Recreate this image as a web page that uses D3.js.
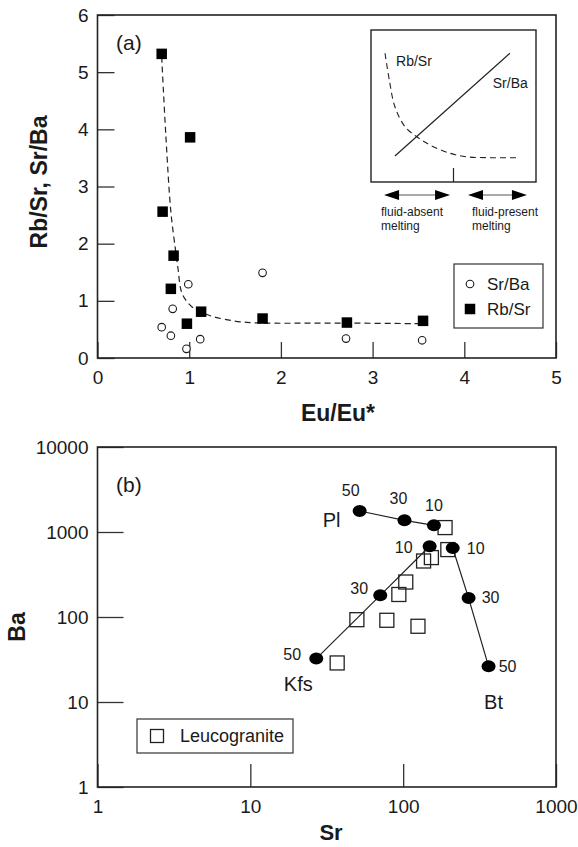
<!DOCTYPE html>
<html lang="en">
<head>
<meta charset="utf-8">
<title>Eu/Eu* and Sr-Ba</title>
<script src="https://cdn.jsdelivr.net/npm/d3@7"></script>
<style>
body{margin:0;background:#fff;}
svg{display:block;font-family:"Liberation Sans",Arial,sans-serif;}
</style>
</head>
<body>
<div id="chart"></div>
<script>
// ---- panel (a) data ----
var rbsrEu  = [0.70, 1.01, 0.71, 0.83, 0.80, 0.975, 1.13, 1.80, 2.72, 3.55]
var rbsrVal = [5.32, 3.86, 2.56, 1.79, 1.21, 0.60, 0.81, 0.69, 0.62, 0.65]
var srbaEu  = [0.99, 0.82, 0.70, 0.80, 0.97, 1.12, 1.80, 2.71, 3.54]
var srbaVal = [1.29, 0.86, 0.54, 0.39, 0.16, 0.33, 1.49, 0.34, 0.31]
// dashed trend
var fitEu  = [0.70, 0.745, 0.80, 0.85, 0.88, 0.91, 0.96, 1.05, 1.23, 1.48, 1.67, 1.85, 2.72, 3.55]
var fitVal = [5.27, 3.90, 2.56, 1.90, 1.54, 1.19, 1.02, 0.87, 0.74, 0.65, 0.62, 0.61, 0.61, 0.60]
var xTicksA = [0, 1, 2, 3, 4, 5]
var yTicksA = [0, 1, 2, 3, 4, 5, 6]

// inset (schematic, 0..1 units)
var insetDashX = [0.085, 0.111, 0.145, 0.206, 0.277, 0.358, 0.479, 0.58, 0.721, 0.903]
var insetDashY = [0.847, 0.671, 0.495, 0.364, 0.298, 0.243, 0.189, 0.166, 0.160, 0.160]
var insetLineX = [0.145, 0.842]
var insetLineY = [0.171, 0.847]
var insetDivide = 0.5

// ---- panel (b) data ----
var leucoSr = [188, 196, 153, 136, 104, 93.7, 49.8, 78.2, 125, 37]
var leucoBa = [1127, 621, 500, 456, 258, 184, 93, 91.5, 77.8, 28.8]
var meltPct = [50, 30, 10]
var plSr  = [51.9, 102, 159]
var plBa  = [1766, 1373, 1199]
var kfsSr = [27, 70.8, 149]
var kfsBa = [32.4, 180, 679]
var btSr  = [362, 268, 211]
var btBa  = [26.3, 167, 649]
var xTicksB = [1, 10, 100, 1000]
var yTicksB = [1, 10, 100, 1000, 10000]

var W = 578, H = 847
var ink = "#1a1a1a"

var svg = d3.select("#chart").append("svg")
	.attr("width", W)
	.attr("height", H)

function styleAxis(g, fs){
	g.select(".domain").remove()
	g.selectAll("line").attr("stroke", "#333").attr("stroke-width", 1.3)
	g.selectAll("text").attr("font-size", fs).attr("fill", ink)
		.attr("font-family", "'Liberation Sans', Arial, sans-serif")
}

// ================= panel (a) =================
var ax = d3.scaleLinear().domain([0, 5]).range([97.5, 556])
var ay = d3.scaleLinear().domain([0, 6]).range([358, 15])

var gA = svg.append("g")

gA.append("g")
	.attr("transform", "translate(0," + ay(0) + ")")
	.call(d3.axisBottom(ax).tickValues(xTicksA).tickFormat(d3.format("d")).tickSize(-16).tickPadding(13))
	.call(styleAxis, 19)

gA.append("g")
	.attr("transform", "translate(" + ax(0) + ",0)")
	.call(d3.axisLeft(ay).tickValues(yTicksA).tickFormat(d3.format("d")).tickSize(-17).tickPadding(9))
	.call(styleAxis, 19)

gA.append("rect")
	.attr("x", ax(0)).attr("y", ay(6))
	.attr("width", ax(5) - ax(0)).attr("height", ay(0) - ay(6))
	.attr("fill", "none").attr("stroke", "#222").attr("stroke-width", 1.6)

gA.append("text").attr("x", 116).attr("y", 50)
	.attr("font-size", 21).attr("fill", ink).text("(a)")

// fitted dashed curve
var fitPts = fitEu.map(function(d, i){ return [d, fitVal[i]] })
gA.append("path")
	.datum(fitPts)
	.attr("d", d3.line().x(function(d){ return ax(d[0]) }).y(function(d){ return ay(d[1]) }).curve(d3.curveCatmullRom))
	.attr("fill", "none").attr("stroke", "#222").attr("stroke-width", 1.2)
	.attr("stroke-dasharray", "6,4")

// Sr/Ba open circles
gA.selectAll("circle.srba")
	.data(srbaEu)
	.enter().append("circle")
	.attr("class", "srba")
	.attr("cx", function(d){ return ax(d) })
	.attr("cy", function(d, i){ return ay(srbaVal[i]) })
	.attr("r", 3.8)
	.attr("fill", "#fff").attr("stroke", ink).attr("stroke-width", 1.1)

// Rb/Sr filled squares
var sqA = 10.5
gA.selectAll("rect.rbsr")
	.data(rbsrEu)
	.enter().append("rect")
	.attr("class", "rbsr")
	.attr("x", function(d){ return ax(d) - sqA / 2 })
	.attr("y", function(d, i){ return ay(rbsrVal[i]) - sqA / 2 })
	.attr("width", sqA).attr("height", sqA)
	.attr("fill", "#000")

// legend (a)
var legA = gA.append("g")
legA.append("rect").attr("x", 454).attr("y", 264).attr("width", 89).attr("height", 64)
	.attr("fill", "#fff").attr("stroke", "#333").attr("stroke-width", 1.2)
legA.append("circle").attr("cx", 470).attr("cy", 284).attr("r", 3.8)
	.attr("fill", "#fff").attr("stroke", ink).attr("stroke-width", 1.1)
legA.append("rect").attr("x", 470 - sqA / 2).attr("y", 309 - sqA / 2)
	.attr("width", sqA).attr("height", sqA).attr("fill", "#000")
legA.append("text").attr("x", 487).attr("y", 290).attr("font-size", 17).attr("fill", ink).text("Sr/Ba")
legA.append("text").attr("x", 487).attr("y", 315).attr("font-size", 17).attr("fill", ink).text("Rb/Sr")

// inset schematic
var ix = d3.scaleLinear().domain([0, 1]).range([371, 536])
var iy = d3.scaleLinear().domain([0, 1]).range([182, 30])
var inset = gA.append("g")
inset.append("rect").attr("x", ix(0)).attr("y", iy(1))
	.attr("width", ix(1) - ix(0)).attr("height", iy(0) - iy(1))
	.attr("fill", "#fff").attr("stroke", "#222").attr("stroke-width", 1.4)
inset.append("line")
	.attr("x1", ix(insetDivide)).attr("x2", ix(insetDivide))
	.attr("y1", iy(0)).attr("y2", iy(0) - 14)
	.attr("stroke", "#222").attr("stroke-width", 1.2)
inset.append("path")
	.datum(insetDashX.map(function(d, i){ return [d, insetDashY[i]] }))
	.attr("d", d3.line().x(function(d){ return ix(d[0]) }).y(function(d){ return iy(d[1]) }).curve(d3.curveCatmullRom))
	.attr("fill", "none").attr("stroke", "#222").attr("stroke-width", 1.1)
	.attr("stroke-dasharray", "6,4")
inset.append("line")
	.attr("x1", ix(insetLineX[0])).attr("y1", iy(insetLineY[0]))
	.attr("x2", ix(insetLineX[1])).attr("y2", iy(insetLineY[1]))
	.attr("stroke", "#222").attr("stroke-width", 1.2)
inset.append("text").attr("x", ix(0.152)).attr("y", iy(0.799) + 5)
	.attr("font-size", 14).attr("fill", ink).text("Rb/Sr")
inset.append("text").attr("x", ix(0.738)).attr("y", iy(0.649) + 5)
	.attr("font-size", 14).attr("fill", ink).text("Sr/Ba")

// double arrows under the inset
function dblArrow(x1, x2, y){
	var hl = 15, hw = 5
	inset.append("line").attr("x1", x1 + hl).attr("x2", x2 - hl).attr("y1", y).attr("y2", y)
		.attr("stroke", "#555").attr("stroke-width", 1)
	inset.append("path")
		.attr("d", "M" + x1 + "," + y + "L" + (x1 + hl) + "," + (y - hw) + "L" + (x1 + hl) + "," + (y + hw) + "Z")
		.attr("fill", "#000")
	inset.append("path")
		.attr("d", "M" + x2 + "," + y + "L" + (x2 - hl) + "," + (y - hw) + "L" + (x2 - hl) + "," + (y + hw) + "Z")
		.attr("fill", "#000")
}
dblArrow(ix(0.079), ix(0.479), 195)
dblArrow(ix(0.588), ix(0.945), 195)
inset.append("text").attr("x", 381).attr("y", 216).attr("font-size", 12).attr("fill", ink).text("fluid-absent")
inset.append("text").attr("x", 381).attr("y", 230).attr("font-size", 12).attr("fill", ink).text("melting")
inset.append("text").attr("x", 472).attr("y", 216).attr("font-size", 12).attr("fill", ink).text("fluid-present")
inset.append("text").attr("x", 472).attr("y", 230).attr("font-size", 12).attr("fill", ink).text("melting")

// axis titles (a)
gA.append("text").attr("x", 338).attr("y", 421)
	.attr("text-anchor", "middle").attr("font-size", 23).attr("font-weight", "bold").attr("fill", ink)
	.text("Eu/Eu*")
gA.append("text")
	.attr("transform", "translate(47,182) rotate(-90)")
	.attr("text-anchor", "middle").attr("font-size", 23).attr("font-weight", "bold").attr("fill", ink)
	.text("Rb/Sr, Sr/Ba")

// ================= panel (b) =================
var bx = d3.scaleLog().domain([1, 1000]).range([97.5, 556])
var by = d3.scaleLog().domain([1, 10000]).range([787, 447])

var gB = svg.append("g")

gB.append("g")
	.attr("transform", "translate(0," + by(1) + ")")
	.call(d3.axisBottom(bx).tickValues(xTicksB).tickFormat(d3.format("d")).tickSize(-23).tickPadding(13))
	.call(styleAxis, 19)

gB.append("g")
	.attr("transform", "translate(" + bx(1) + ",0)")
	.call(d3.axisLeft(by).tickValues(yTicksB).tickFormat(d3.format("d")).tickSize(-26).tickPadding(9))
	.call(styleAxis, 19)

gB.append("rect")
	.attr("x", bx(1)).attr("y", by(10000))
	.attr("width", bx(1000) - bx(1)).attr("height", by(1) - by(10000))
	.attr("fill", "none").attr("stroke", "#222").attr("stroke-width", 1.6)

gB.append("text").attr("x", 116).attr("y", 492)
	.attr("font-size", 21).attr("fill", ink).text("(b)")

// mineral vectors
var minerals = [
	{name: "Pl",  sr: plSr,  ba: plBa,  lab: [[-9, -21], [-6, -22], [0, -20]], nameAt: 0, nameOff: [-28, 9]},
	{name: "Kfs", sr: kfsSr, ba: kfsBa, lab: [[-24, -5], [-21, -7], [-26, 1]], nameAt: 0, nameOff: [-18, 25]},
	{name: "Bt",  sr: btSr,  ba: btBa,  lab: [[19, 0], [22, -1], [23, 0]],     nameAt: 0, nameOff: [5, 36]}
]

var lineB = d3.line().x(function(d){ return bx(d[0]) }).y(function(d){ return by(d[1]) })

// leucogranite squares under the vectors
var sqB = 14
gB.selectAll("rect.leuco")
	.data(leucoSr)
	.enter().append("rect")
	.attr("class", "leuco")
	.attr("x", function(d){ return bx(d) - sqB / 2 })
	.attr("y", function(d, i){ return by(leucoBa[i]) - sqB / 2 })
	.attr("width", sqB).attr("height", sqB)
	.attr("fill", "none").attr("stroke", "#222").attr("stroke-width", 1.3)

minerals.forEach(function(m){
	var pts = m.sr.map(function(d, i){ return [d, m.ba[i]] })
	gB.append("path").datum(pts).attr("d", lineB)
		.attr("fill", "none").attr("stroke", "#222").attr("stroke-width", 1.2)
	gB.selectAll("ellipse." + m.name)
		.data(pts)
		.enter().append("ellipse")
		.attr("class", m.name)
		.attr("cx", function(d){ return bx(d[0]) })
		.attr("cy", function(d){ return by(d[1]) })
		.attr("rx", 7).attr("ry", 6)
		.attr("fill", "#000")
	gB.selectAll("text.p" + m.name)
		.data(pts)
		.enter().append("text")
		.attr("class", "p" + m.name)
		.attr("x", function(d, i){ return bx(d[0]) + m.lab[i][0] })
		.attr("y", function(d, i){ return by(d[1]) + m.lab[i][1] + 6 })
		.attr("text-anchor", "middle").attr("font-size", 16).attr("fill", ink)
		.text(function(d, i){ return meltPct[i] })
	gB.append("text")
		.attr("x", bx(pts[m.nameAt][0]) + m.nameOff[0])
		.attr("y", by(pts[m.nameAt][1]) + m.nameOff[1] + 7)
		.attr("text-anchor", "middle").attr("font-size", 20).attr("fill", ink)
		.text(m.name)
})

// legend (b)
var legB = gB.append("g")
legB.append("rect").attr("x", 137).attr("y", 719).attr("width", 156).attr("height", 34)
	.attr("fill", "#fff").attr("stroke", "#333").attr("stroke-width", 1.2)
legB.append("rect").attr("x", 157 - 6.5).attr("y", 736 - 6.5).attr("width", 13).attr("height", 13)
	.attr("fill", "none").attr("stroke", "#222").attr("stroke-width", 1.3)
legB.append("text").attr("x", 180).attr("y", 742).attr("font-size", 18).attr("fill", ink).text("Leucogranite")

// axis titles (b)
gB.append("text").attr("x", 331).attr("y", 840)
	.attr("text-anchor", "middle").attr("font-size", 22).attr("font-weight", "bold").attr("fill", ink)
	.text("Sr")
gB.append("text")
	.attr("transform", "translate(25,627) rotate(-90)")
	.attr("text-anchor", "middle").attr("font-size", 23).attr("font-weight", "bold").attr("fill", ink)
	.text("Ba")
</script>
</body>
</html>
